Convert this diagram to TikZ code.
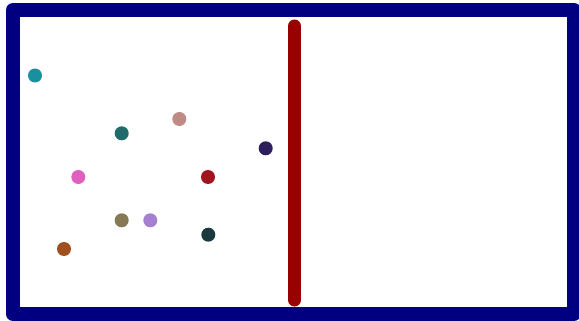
\documentclass[tikz,border=0pt]{standalone}
\begin{document}
\begin{tikzpicture}[x=1pt,y=-1pt,
  dot/.style={circle,inner sep=0pt,minimum size=14pt,fill=#1,draw=none}]
\definecolor{navy}{HTML}{000080}
\definecolor{barred}{HTML}{990000}
\definecolor{cA}{HTML}{1A8FA0}
\definecolor{cB}{HTML}{206B6B}
\definecolor{cC}{HTML}{C08A85}
\definecolor{cD}{HTML}{2E1F5C}
\definecolor{cE}{HTML}{E060C0}
\definecolor{cF}{HTML}{A0151F}
\definecolor{cG}{HTML}{857A55}
\definecolor{cH}{HTML}{A57FD0}
\definecolor{cI}{HTML}{1A3A40}
\definecolor{cJ}{HTML}{A0501F}
\useasboundingbox (0,0) rectangle (579,321);
\draw[navy,line width=14pt,line join=round] (13,10) rectangle (574,314);
\draw[barred,line width=13pt,line cap=round] (294.5,26) -- (294.5,300);
\node[dot=cA] (d1) at (35,75.5) {};
\node[dot=cB] (d2) at (121.7,133.3) {};
\node[dot=cC] (d3) at (179.3,119) {};
\node[dot=cD] (d4) at (265.7,148.3) {};
\node[dot=cE] (d5) at (78.3,177) {};
\node[dot=cF] (d6) at (208,177) {};
\node[dot=cG] (d7) at (121.7,220.3) {};
\node[dot=cH] (d8) at (150.3,220.3) {};
\node[dot=cI] (d9) at (208.3,234.7) {};
\node[dot=cJ] (d10) at (64,249) {};
\end{tikzpicture}
\end{document}
